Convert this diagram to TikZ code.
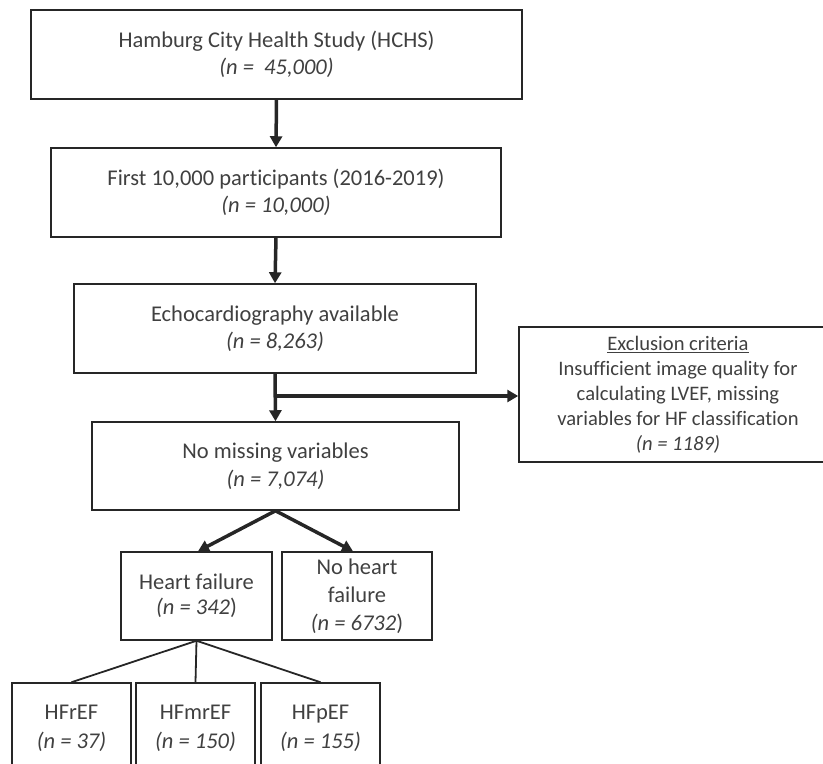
\documentclass[tikz,border=0pt]{standalone}
\usepackage{fontspec}
\setmainfont{Carlito}[Ligatures=NoCommon]
\usepackage{tikz}
\usetikzlibrary{arrows.meta}
\tikzset{>={Triangle[length=11pt,width=12pt]}}
\usepackage{xcolor}
\colorlet{mygray}{black!75}
\colorlet{myline}{black!85}
\tikzstyle{box}=[draw=myline,line width=1.5pt,inner sep=0,align=center,text=mygray,font=\fontsize{22.5}{27.5}\selectfont]
\tikzstyle{flowarrow}=[draw=myline,line width=3.5pt,->]
\tikzstyle{subline}=[draw=myline,line width=1.8pt]

\begin{document}
\begin{tikzpicture}[x=1pt,y=-1pt]
\useasboundingbox (0,0) rectangle (823,764);

\node[box,minimum width=491,minimum height=89] (hchs) at (276.5,54.5) {Hamburg City Health Study (HCHS)\\\textit{(n =\ \ 45,000)}};
\node[box,minimum width=450,minimum height=89] (first) at (276,192.5) {First 10,000 participants (2016-2019)\\\textit{(n = 10,000)}};
\node[box,minimum width=402,minimum height=89] (echo) at (275,328.5) {Echocardiography available\\\textit{(n = 8,263)}};
\node[box,minimum width=367,minimum height=88] (nomiss) at (275.5,466) {No missing variables\\\textit{(n = 7,074)}};

\node[box,minimum width=318,minimum height=135,font=\fontsize{20.6}{25}\selectfont] (excl) at (678,394.5) {\underline{Exclusion criteria}\\Insufficient image quality for\\calculating LVEF, missing\\variables for HF classification\\\textit{(n = 1189)}};

\node[box,minimum width=151,minimum height=88,font=\fontsize{22.5}{25}\selectfont] (hf) at (196.5,596) {Heart failure\\\textit{(n = 342})};
\node[box,minimum width=150,minimum height=88,font=\fontsize{22.5}{28}\selectfont] (nohf) at (357,596) {No heart\\failure\\\textit{(n = 6732})};

\node[box,minimum width=119,minimum height=90,font=\fontsize{22.5}{29}\selectfont] (hfref) at (71.5,728) {HFrEF\\\textit{(n = 37)}};
\node[box,minimum width=119,minimum height=90,font=\fontsize{22.5}{29}\selectfont] (hfmref) at (195.5,728) {HFmrEF\\\textit{(n = 150)}};
\node[box,minimum width=119,minimum height=90,font=\fontsize{22.5}{29}\selectfont] (hfpef) at (320.5,728) {HFpEF\\\textit{(n = 155)}};

\draw[flowarrow] (hchs.south) -- (first.north);
\draw[flowarrow] (first.south) -- (echo.north);
\draw[flowarrow] (echo.south) -- (nomiss.north);
\coordinate (branch) at (275,396);
\draw[flowarrow] (branch) -- (branch -| excl.west);

\draw[flowarrow] (nomiss.south) -- ([xshift=1.5pt]hf.north);
\draw[flowarrow] (nomiss.south) -- ([xshift=-4pt]nohf.north);

\draw[subline] (hf.south) -- (hfref.north);
\draw[subline] (hf.south) -- (hfmref.north);
\draw[subline] (hf.south) -- (hfpef.north);
\end{tikzpicture}
\end{document}
